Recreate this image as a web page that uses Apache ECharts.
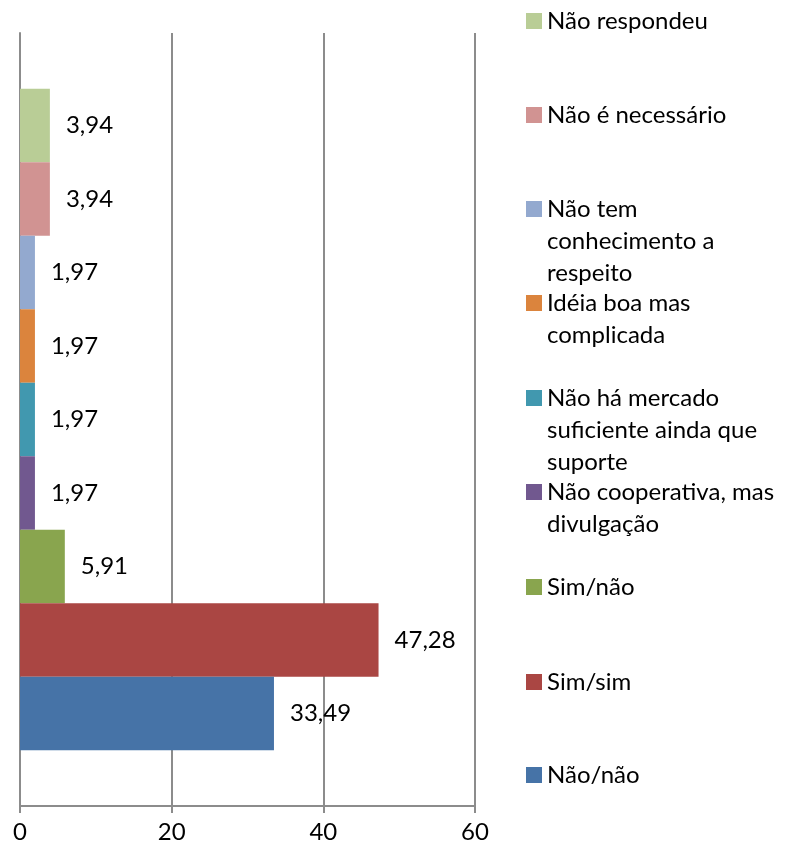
<!DOCTYPE html>
<html>
<head>
<meta charset="utf-8">
<script src="https://cdn.jsdelivr.net/npm/echarts@6/dist/echarts.min.js"></script>
<style>
  html, body { margin: 0; padding: 0; background: #fff; }
  #chart { width: 787px; height: 852px; }
</style>
</head>
<body>
<div id="chart"></div>
<script>
// Survey answers, bottom bar first
const seriesNames = [
  'Não/não',
  'Sim/sim',
  'Sim/não',
  'Não cooperativa, mas\ndivulgação',
  'Não há mercado\nsuficiente ainda que\nsuporte',
  'Idéia boa mas\ncomplicada',
  'Não tem\nconhecimento a\nrespeito',
  'Não é necessário',
  'Não respondeu'
];
const seriesValues = [33.49, 47.28, 5.91, 1.97, 1.97, 1.97, 1.97, 3.94, 3.94];
const seriesColors = ['#4673A7', '#AA4643', '#89A54E', '#71588F', '#4198AF', '#DB843D', '#93A9CF', '#D19392', '#B9CD96'];
const categories = [''];
const xTicks = [0, 20, 40, 60];

// vertical centres of the legend swatches, same order as the series
const legendCentres = [775, 682, 587, 492, 398, 303, 209, 115, 21];

const FONT = 'Lato';
const FONT_SIZE = 24;
const LINE_H = 32;

const fmt = v => v.toFixed(2).replace('.', ',');

const makeSeries = i => ({
  name: seriesNames[i],
  type: 'bar',
  data: [seriesValues[i]],
  barGap: '0%',
  barCategoryGap: '14.4%',
  itemStyle: { color: seriesColors[i] },
  label: {
    show: true,
    position: 'right',
    distance: 16,
    color: '#000',
    fontFamily: FONT,
    fontSize: FONT_SIZE,
    formatter: p => fmt(p.value)
  },
  emphasis: { disabled: true }
});

// horizontal bars stack downward in series order, so the top bar goes first
const series = seriesNames.map((_, i) => makeSeries(seriesNames.length - 1 - i));

// one legend per entry; blank leading lines keep each swatch beside the first text line
const legends = seriesNames.map((name, i) => {
  const n = name.split('\n').length;
  const h = LINE_H * (2 * n - 1);
  return {
    data: [name],
    left: 526,
    top: legendCentres[i] - h / 2,
    padding: 0,
    orient: 'vertical',
    icon: 'rect',
    itemWidth: 16,
    itemHeight: 16,
    selectedMode: false,
    formatter: label => '\n'.repeat(n - 1) + label,
    textStyle: {
      color: '#000',
      fontFamily: FONT,
      fontSize: FONT_SIZE,
      lineHeight: LINE_H
    }
  };
});

const chart = echarts.init(document.getElementById('chart'), null, { renderer: 'canvas' });
chart.setOption({
  animation: false,
  backgroundColor: '#fff',
  grid: { left: 20, right: 312, top: 33, bottom: 46, containLabel: false },
  legend: legends,
  xAxis: {
    type: 'value',
    min: xTicks[0],
    max: xTicks[xTicks.length - 1],
    interval: xTicks[1] - xTicks[0],
    axisLine: { show: true, lineStyle: { color: '#8C8C8C', width: 2 } },
    axisTick: { show: true, length: 7, lineStyle: { color: '#8C8C8C', width: 2 } },
    axisLabel: { color: '#000', fontFamily: FONT, fontSize: FONT_SIZE, margin: 14 },
    splitLine: { show: true, lineStyle: { color: '#8C8C8C', width: 2 } }
  },
  yAxis: {
    type: 'category',
    data: categories,
    axisLine: { show: true, lineStyle: { color: '#8C8C8C', width: 2 } },
    axisTick: { show: false },
    axisLabel: { show: false }
  },
  series: series
});
</script>
</body>
</html>
